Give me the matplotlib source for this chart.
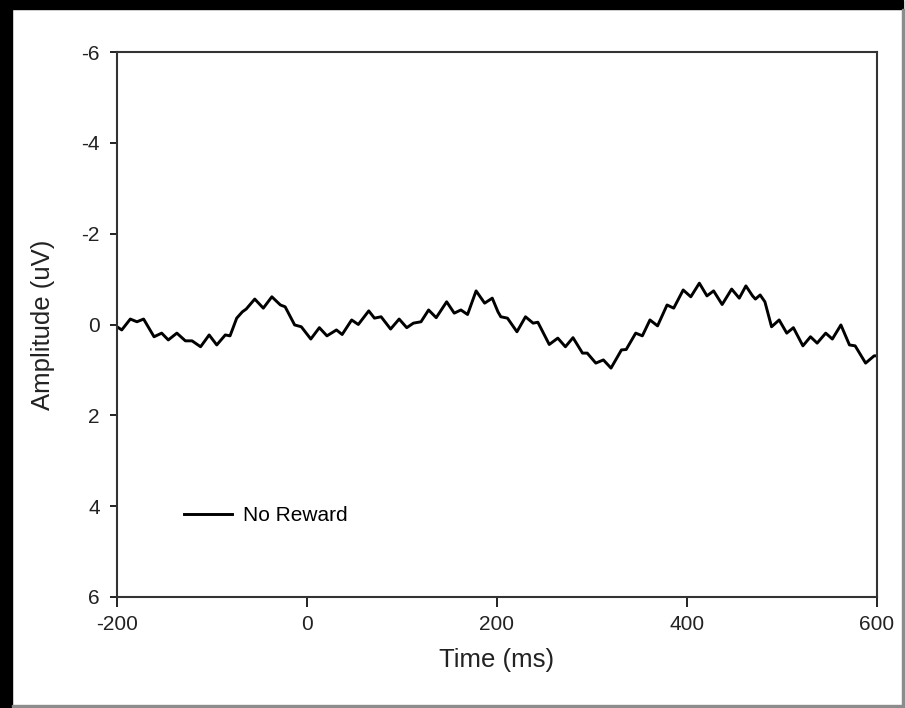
import matplotlib.pyplot as plt
from matplotlib.patches import Rectangle

plt.rcParams["font.family"] = ["Liberation Sans", "DejaVu Sans"]
plt.rcParams["axes.unicode_minus"] = False

# ERP waveform (time in ms, amplitude in uV)
time_ms = [-200, -195, -186, -179, -172, -161, -153, -146, -137, -128, -121, -112,
           -103, -95, -86, -81, -74, -68, -64, -55, -46, -37, -28, -23, -13, -6,
           4, 13, 21, 31, 37, 47, 54, 65, 71, 78, 88, 97, 105, 112, 120, 128,
           136, 147, 155, 162, 169, 178, 187, 195, 201, 204, 211, 221, 230, 238,
           243, 255, 264, 272, 280, 290, 295, 304, 312, 320, 331, 336, 346, 353,
           361, 369, 379, 386, 396, 404, 413, 421, 428, 437, 447, 455, 462, 469,
           472, 477, 482, 489, 497, 505, 512, 522, 530, 537, 546, 553, 562, 571,
           577, 588, 597, 600]
amplitude = [0.05, 0.12, -0.12, -0.06, -0.12, 0.27, 0.19, 0.34, 0.19, 0.36, 0.36, 0.49,
             0.23, 0.45, 0.23, 0.25, -0.14, -0.28, -0.34, -0.56, -0.36, -0.61, -0.43, -0.39, 0.01, 0.05,
             0.32, 0.07, 0.25, 0.12, 0.22, -0.10, 0.00, -0.30, -0.14, -0.17, 0.10, -0.12, 0.07, -0.03, -0.06, -0.32,
             -0.15, -0.50, -0.25, -0.32, -0.22, -0.74, -0.47, -0.58, -0.28, -0.17, -0.14, 0.16, -0.17, -0.03,
             -0.05, 0.44, 0.30, 0.49, 0.29, 0.63, 0.63, 0.85, 0.78, 0.96, 0.56, 0.55, 0.19, 0.25,
             -0.10, 0.03, -0.43, -0.36, -0.76, -0.61, -0.91, -0.63, -0.74, -0.44, -0.78, -0.58, -0.85, -0.63,
             -0.56, -0.65, -0.50, 0.05, -0.10, 0.19, 0.07, 0.47, 0.27, 0.41, 0.19, 0.32, 0.01, 0.45,
             0.47, 0.85, 0.69, 0.69]

x_ticks = [-200, 0, 200, 400, 600]
y_ticks = [-6, -4, -2, 0, 2, 4, 6]

fig = plt.figure(figsize=(9.05, 7.08), dpi=100)
W, H = 905, 708

# black frame around the picture
def px_rect(x0, y0, x1, y1, color):
    fig.patches.append(Rectangle((x0 / W, 1 - y1 / H), (x1 - x0) / W, (y1 - y0) / H,
                                 transform=fig.transFigure, color=color, zorder=0))

px_rect(0, 0, 903, 9, "black")
px_rect(0, 0, 12, 708, "black")
px_rect(902, 9, 904, 708, "#8c8c8c")
px_rect(12, 705, 904, 707, "#8c8c8c")

ax = fig.add_axes([117 / W, 1 - 597 / H, 760 / W, 545 / H])
ax.plot(time_ms, amplitude, color="black", lw=2.1, solid_joinstyle="round",
        label="No Reward")

ax.set_xlim(-200, 600)
ax.set_ylim(6, -6)
ax.set_xticks(x_ticks)
ax.set_yticks(y_ticks)
ax.tick_params(direction="out", width=1.4, labelsize=15,
               colors="#222222", top=False, right=False)
ax.tick_params(axis="x", length=7, pad=6)
ax.tick_params(axis="y", length=5, pad=7.5)
for s in ax.spines.values():
    s.set_linewidth(1.5)
    s.set_color("#333333")

ax.set_xlabel("Time (ms)", fontsize=18.5, color="#222222")
ax.set_ylabel("Amplitude (uV)", fontsize=18.5, color="#222222")
ax.xaxis.set_label_coords(0.5, -0.093)
ax.yaxis.set_label_coords(-0.081, 0.5)

ax.legend(loc="center left", bbox_to_anchor=(0.088, 0.149), frameon=False,
          fontsize=15, handlelength=2.3, handletextpad=0.55,
          borderpad=0, borderaxespad=0)

fig.savefig("out.png", dpi=100)
